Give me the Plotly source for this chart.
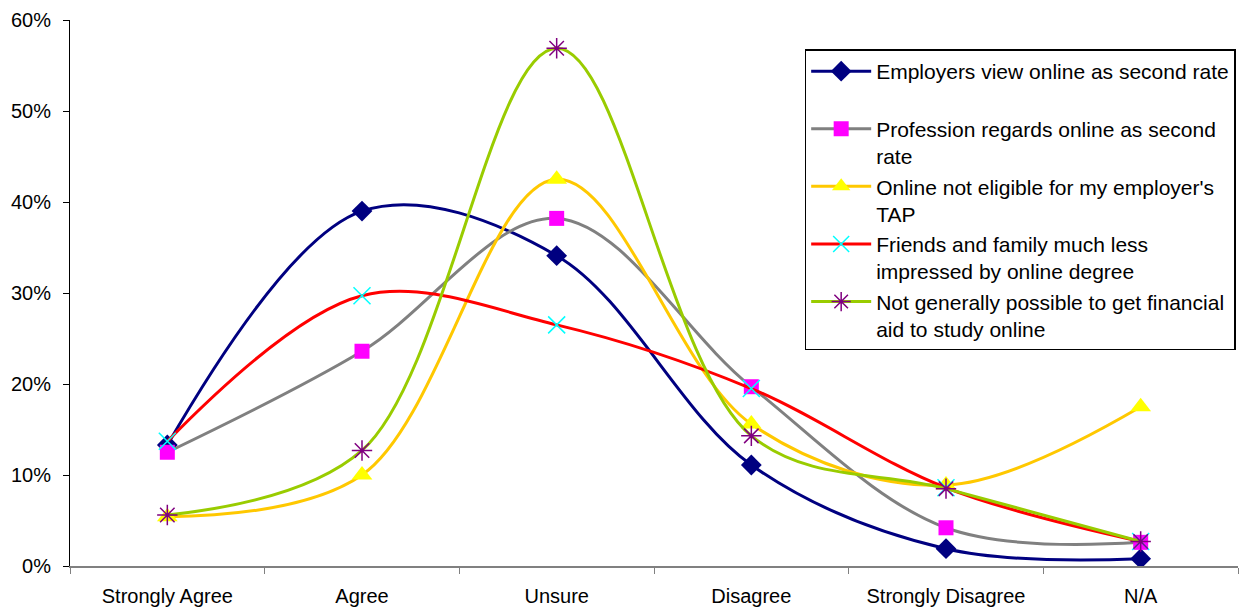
import plotly.graph_objects as go

categories = ["Strongly Agree", "Agree", "Unsure", "Disagree", "Strongly Disagree", "N/A"]

employers = [13.3, 39.0, 34.1, 11.1, 1.9, 0.8]
profession = [12.5, 23.6, 38.2, 19.7, 4.2, 2.6]
not_eligible = [5.4, 10.0, 42.5, 15.6, 8.9, 17.5]
friends = [13.7, 29.7, 26.5, 19.5, 8.6, 2.7]
financial_aid = [5.6, 12.7, 56.9, 14.3, 8.5, 2.7]

series_names = [
    "Employers view online as second rate<br>\u00a0",
    "Profession regards online as second<br>rate",
    "Online not eligible for my employer's<br>TAP",
    "Friends and family much less<br>impressed by online degree",
    "Not generally possible to get financial<br>aid to study online",
]

y_ticks = [0, 10, 20, 30, 40, 50, 60]
y_tick_labels = ["0%", "10%", "20%", "30%", "40%", "50%", "60%"]

styles = [
    dict(line="#000080", marker=dict(symbol="diamond", size=16, color="#000080")),
    dict(line="#808080", marker=dict(symbol="square", size=15, color="#FF00FF")),
    dict(line="#FFC800", marker=dict(symbol="triangle-up", size=18, color="#FFFF00")),
    dict(line="#FF0000", marker=dict(symbol="x-thin-open", size=17, color="#00FFFF",
                                     line=dict(color="#00FFFF", width=1.5))),
    dict(line="#99CC00", marker=dict(symbol="asterisk-open", size=17, color="#800080",
                                     line=dict(color="#800080", width=1.5))),
]

data = [employers, profession, not_eligible, friends, financial_aid]

fig = go.Figure()
for name, vals, st in zip(series_names, data, styles):
    fig.add_trace(go.Scatter(
        x=categories, y=vals, name=name, mode="lines+markers",
        line=dict(color=st["line"], width=3, shape="spline", smoothing=1),
        marker=st["marker"],
    ))

font_family = "Liberation Sans, Arial, sans-serif"

fig.update_layout(
    width=1246, height=608,
    margin=dict(l=70, r=8, t=20, b=42, autoexpand=False),
    paper_bgcolor="white", plot_bgcolor="white",
    font=dict(family=font_family, size=20, color="black"),
    showlegend=True,
    legend=dict(
        x=0.629, y=0.946, xanchor="left", yanchor="top",
        bordercolor="black", borderwidth=1.5, bgcolor="white",
        font=dict(family=font_family, size=21, color="black"),
        valign="top", tracegroupgap=0, itemwidth=60,
    ),
    xaxis=dict(
        type="category", tickson="boundaries", ticks="outside", ticklen=6,
        tickcolor="#808080", linecolor="#808080", linewidth=2, showline=True,
        showgrid=False, zeroline=False, range=[-0.5, 5.5], automargin=False,
        tickfont=dict(size=20), ticklabelstandoff=11,
    ),
    yaxis=dict(
        range=[0, 60], tickvals=y_ticks, ticktext=y_tick_labels,
        ticks="outside", ticklen=6, tickcolor="black", showline=True,
        linecolor="black", linewidth=1, showgrid=False, zeroline=False,
        automargin=False, tickfont=dict(size=20), ticklabelstandoff=8,
    ),
)

fig.write_html("out.html")
